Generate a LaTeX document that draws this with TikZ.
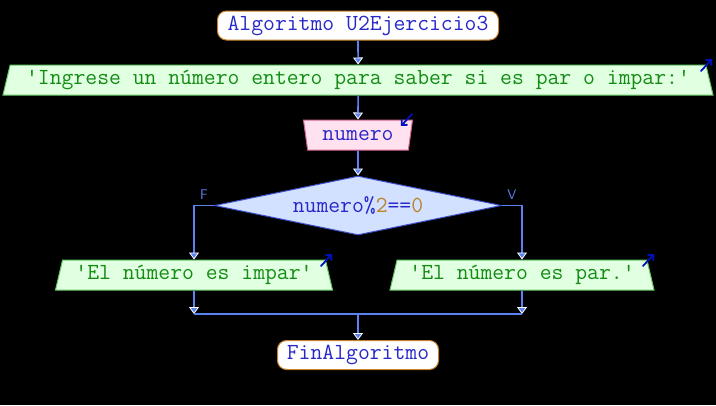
\documentclass[tikz,border=0pt]{standalone}
\usepackage{tikz}
\usetikzlibrary{arrows.meta}
\usetikzlibrary{shapes.geometric}
\usetikzlibrary{positioning}

\definecolor{flowblue}{RGB}{90,130,240}
\definecolor{termdraw}{RGB}{200,130,40}
\definecolor{txtblue}{RGB}{40,40,200}
\definecolor{outfill}{RGB}{225,255,225}
\definecolor{outdraw}{RGB}{100,200,100}
\definecolor{txtgreen}{RGB}{20,140,20}
\definecolor{infill}{RGB}{255,225,240}
\definecolor{indraw}{RGB}{210,100,140}
\definecolor{condfill}{RGB}{210,225,255}
\definecolor{conddraw}{RGB}{60,80,200}
\definecolor{numbrown}{RGB}{190,130,40}
\definecolor{icondark}{RGB}{0,16,190}

\tikzset{flow/.style = {draw=flowblue, line width=1.6bp,
                        -{Triangle[width=10bp, length=7bp, color=white, fill=flowblue, line width=0.8bp]}}}
\tikzset{flowline/.style = {draw=flowblue, line width=1.6bp}}
\tikzset{code/.style = {font=\ttfamily\fontsize{23.1}{28}\selectfont, inner sep=0, line width=1bp}}
\tikzset{term/.style = {code, draw=termdraw, fill=white, text=txtblue, rounded corners=9bp, minimum height=29bp}}
\tikzset{outbox/.style = {code, trapezium, trapezium left angle=70, trapezium right angle=70,
                          trapezium stretches body, draw=outdraw, fill=outfill, text=txtgreen, minimum height=30bp}}
\tikzset{inbox/.style = {code, trapezium, shape border rotate=180, trapezium left angle=68, trapezium right angle=68,
                         trapezium stretches body, draw=indraw, fill=infill, text=txtblue, minimum height=30bp}}
\tikzset{cond/.style = {code, diamond, aspect=5, draw=conddraw, fill=condfill, text=txtblue,
                        minimum width=287bp, minimum height=59bp}}
\tikzset{branchlbl/.style = {font=\sffamily\fontsize{14}{16}\selectfont, text=flowblue, inner sep=0}}
\tikzset{icon/.style = {draw=icondark, line width=1.8bp, line cap=round,
                        -{Straight Barb[length=4bp, width=8bp, line width=1.8bp]}}}

\begin{document}
\begin{tikzpicture}[x=1bp, y=-1bp]
    \fill [black] (0, 0) rectangle (716, 405);

    \node [term, minimum width=281bp] (start) at (358, 25.5) {Algoritmo U2Ejercicio3};
    \node [outbox, minimum width=710bp] (out1) at (358, 80) {\textquotesingle Ingrese un número entero para saber si es par o impar:\textquotesingle};
    \node [inbox, minimum width=109bp] (in1) at (358, 135) {numero};
    \node [cond] (test) at (358, 205.5) {numero\%{\color{numbrown}2}=={\color{numbrown}0}};

    \node [outbox, minimum width=277bp] (outF) at (194, 275) {\textquotesingle El número es impar\textquotesingle};
    \node [outbox, minimum width=264bp] (outV) at (522, 275) {\textquotesingle El número es par.\textquotesingle};

    \node [term, minimum width=161bp] (finish) at (358, 355) {FinAlgoritmo};

    \node [branchlbl] (lblF) at (204, 195) {F};
    \node [branchlbl] (lblV) at (512, 195) {V};

    \coordinate (jL) at (194, 314);
    \coordinate (jM) at (358, 314);
    \coordinate (jR) at (522, 314);

    \draw [flow] (start) -- (out1);
    \draw [flow] (out1) -- (in1);
    \draw [flow] (in1) -- (test);
    \draw [flow] (test.west) -| (outF);
    \draw [flow] (test.east) -| (outV);
    \draw [flow] (outF) -- (jL);
    \draw [flow] (outV) -- (jR);
    \draw [flowline] (jL) -- (jR);
    \draw [flow] (jM) -- (finish);

    % input / output marks
    \draw [icon] (701, 71) -- (712, 59);
    \draw [icon] (412, 114) -- (401, 126);
    \draw [icon] (321, 266) -- (332, 254);
    \draw [icon] (643, 266) -- (654, 254);
\end{tikzpicture}
\end{document}
